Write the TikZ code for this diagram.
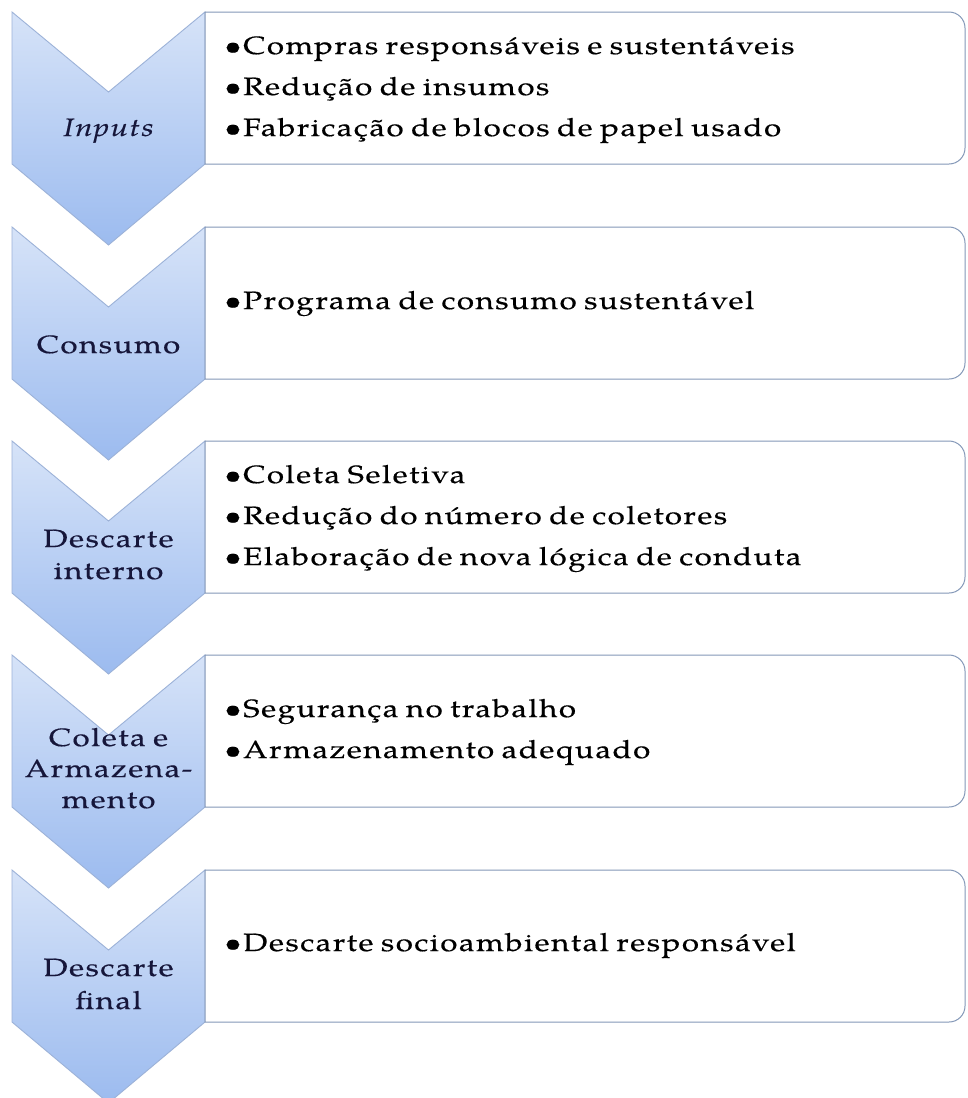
\documentclass[tikz,border=0pt]{standalone}
\usepackage{fontspec}
\setmainfont{TeX Gyre Pagella}[FakeStretch=1.25, LetterSpace=6.2, WordSpace=0.8, FakeBold=0.4]
\definecolor{chevtop}{HTML}{D6E3F8}
\definecolor{chevbot}{HTML}{9CBBEF}
\definecolor{chevline}{HTML}{9CB2D8}
\definecolor{boxline}{HTML}{8498B8}
\definecolor{labcol}{HTML}{16163A}
\begin{document}
\begin{tikzpicture}[x=1pt,y=-1pt,
  chev/.style={draw=chevline, line width=0.9pt, top color=chevtop, bottom color=chevbot, line join=miter},
  panel/.style={draw=boxline, line width=1pt, fill=white},
  itemtxt/.style={anchor=base west, inner sep=0pt, font=\fontsize{25}{29}\selectfont, text=black},
  labtxt/.style={anchor=base, inner sep=0pt, font=\fontsize{25}{29}\selectfont, text=labcol}]
\useasboundingbox (0,0) rectangle (967,1098);
\fill[white] (0,0) rectangle (967,1098);
\foreach \T in {12,227,441,655,870}{
  \path[chev] (12,\T) -- (108.5,\T+80) -- (205,\T) -- (205,\T+152) -- (108.5,\T+233) -- (12,\T+152) -- cycle;
  \draw[panel] (205,\T) -- (949,\T) .. controls (957.8,\T) and (965,\T+7.2) .. (965,\T+16) -- (965,\T+136) .. controls (965,\T+144.8) and (957.8,\T+152) .. (949,\T+152) -- (205,\T+152) -- cycle;
}
% chevron labels
\node[labtxt] (l1) at (108.5,136) {\itshape Inputs};
\node[labtxt] (l2) at (108.5,353) {Consumo};
\node[labtxt] (l3a) at (108.5,547) {Descarte};
\node[labtxt] (l3b) at (108.5,579) {interno};
\node[labtxt] (l4a) at (108.5,746) {Coleta e};
\node[labtxt] (l4b) at (108.5,777) {Armazena-};
\node[labtxt] (l4c) at (108.5,808) {mento};
\node[labtxt] (l5a) at (108.5,976) {Descarte};
\node[labtxt] (l5b) at (108.5,1009) {final};
% box items
\node[itemtxt] (i1a) at (224,54) {•Compras responsáveis e sustentáveis};
\node[itemtxt] (i1b) at (224,95) {•Redução de insumos};
\node[itemtxt] (i1c) at (224,136) {•Fabricação de blocos de papel usado};
\node[itemtxt] (i2a) at (224,309) {•Programa de consumo sustentável};
\node[itemtxt] (i3a) at (224,483) {•Coleta Seletiva};
\node[itemtxt] (i3b) at (224,524) {•Redução do número de coletores};
\node[itemtxt] (i3c) at (224,565) {•Elaboração de nova lógica de conduta};
\node[itemtxt] (i4a) at (224,717) {•Segurança no trabalho};
\node[itemtxt] (i4b) at (224,758) {•Armazenamento adequado};
\node[itemtxt] (i5a) at (224,951) {•Descarte socioambiental responsável};
\end{tikzpicture}
\end{document}
